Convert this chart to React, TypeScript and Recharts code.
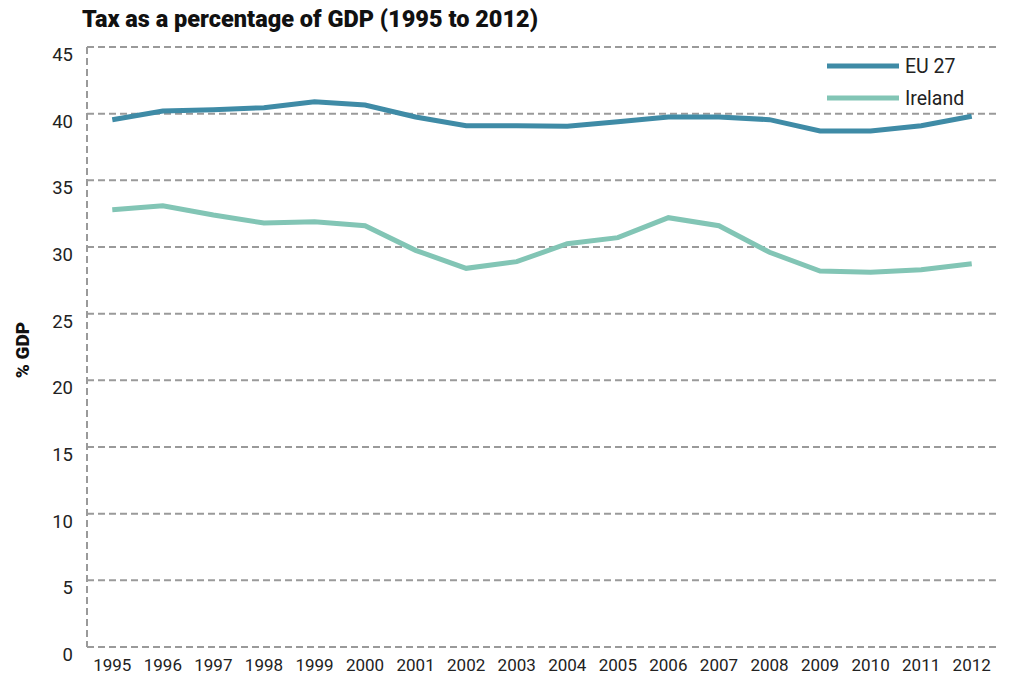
import { LineChart, Line, XAxis, YAxis, CartesianGrid } from "recharts";

const years = [
  "1995", "1996", "1997", "1998", "1999", "2000", "2001", "2002", "2003",
  "2004", "2005", "2006", "2007", "2008", "2009", "2010", "2011", "2012",
];
const eu27 = [
  39.55, 40.2, 40.3, 40.45, 40.9, 40.65, 39.75, 39.1, 39.1,
  39.05, 39.4, 39.75, 39.75, 39.55, 38.7, 38.7, 39.1, 39.8,
];
const ireland = [
  32.8, 33.1, 32.4, 31.8, 31.9, 31.6, 29.75, 28.4, 28.9,
  30.25, 30.7, 32.2, 31.6, 29.6, 28.2, 28.1, 28.3, 28.75,
];
const yTicks = [0, 5, 10, 15, 20, 25, 30, 35, 40, 45];

const EU_COLOR = "#3f8ba6";
const IE_COLOR = "#82c5b5";
const GRID = "#9a9a9a";
const FONT = "Roboto, sans-serif";

const data = years.map((year, i) => ({ year, eu: eu27[i], ie: ireland[i] }));
const legendItems = [
  { label: "EU 27", color: EU_COLOR },
  { label: "Ireland", color: IE_COLOR },
];

const YTick = ({ x, y, payload }: any) => (
  <text x={x - 6} y={y + 9} textAnchor="end" dominantBaseline="middle" fontSize={18.5} fill="#222" fontFamily={FONT}>
    {payload.value}
  </text>
);

const XTick = ({ x, y, payload }: any) => (
  <text x={x} y={y + 16} textAnchor="middle" fontSize={17} fill="#222" fontFamily={FONT}>
    {payload.value}
  </text>
);

export default function App() {
  return (
    <div style={{ position: "absolute", left: 0, top: 0, width: 1009, height: 677, background: "#fff" }}>
      <div
        style={{
          position: "absolute",
          left: 82,
          top: 5,
          fontFamily: FONT,
          fontWeight: 900,
          fontSize: 23.5,
          color: "#111",
          whiteSpace: "nowrap",
        }}
      >
        Tax as a percentage of GDP (1995 to 2012)
      </div>
      <div
        style={{
          position: "absolute",
          left: 22,
          top: 350,
          transform: "translate(-50%, -50%) rotate(-90deg)",
          fontFamily: FONT,
          fontWeight: 900,
          fontSize: 19,
          color: "#111",
          whiteSpace: "nowrap",
        }}
      >
        % GDP
      </div>
      <LineChart
        width={1009}
        height={677}
        data={data}
        margin={{ top: 47, right: 12, bottom: 0, left: 17 }}
        style={{ position: "absolute", left: 0, top: 0 }}
      >
        <CartesianGrid yAxisId="left" vertical={false} stroke={GRID} strokeWidth={2} strokeDasharray="7 4" />
        <XAxis
          dataKey="year"
          scale="band"
          height={30}
          axisLine={false}
          tickLine={false}
          tick={<XTick />}
          interval={0}
        />
        <YAxis
          yAxisId="left"
          domain={[0, 45]}
          ticks={yTicks}
          width={70}
          axisLine={{ stroke: GRID, strokeWidth: 2, strokeDasharray: "7 4" }}
          tickLine={false}
          tick={<YTick />}
        />
        <YAxis
          yAxisId="right"
          orientation="right"
          domain={[0, 45]}
          ticks={yTicks}
          width={0}
          axisLine={{ stroke: GRID, strokeWidth: 2, strokeDasharray: "7 4" }}
          tickLine={false}
          tick={false}
        />
        <Line
          yAxisId="left"
          dataKey="eu"
          name="EU 27"
          stroke={EU_COLOR}
          strokeWidth={5}
          dot={false}
          isAnimationActive={false}
        />
        <Line
          yAxisId="left"
          dataKey="ie"
          name="Ireland"
          stroke={IE_COLOR}
          strokeWidth={5}
          dot={false}
          isAnimationActive={false}
        />
      </LineChart>
      <div
        style={{
          position: "absolute",
          left: 827,
          top: 50,
          fontFamily: FONT,
          fontSize: 19.5,
          color: "#222",
        }}
      >
        {legendItems.map((item) => (
          <div key={item.label} style={{ display: "flex", alignItems: "center", height: 32 }}>
            <svg width={72} height={8} style={{ marginRight: 6 }}>
              <line x1={0} y1={4} x2={72} y2={4} stroke={item.color} strokeWidth={5} />
            </svg>
            <span>{item.label}</span>
          </div>
        ))}
      </div>
    </div>
  );
}
